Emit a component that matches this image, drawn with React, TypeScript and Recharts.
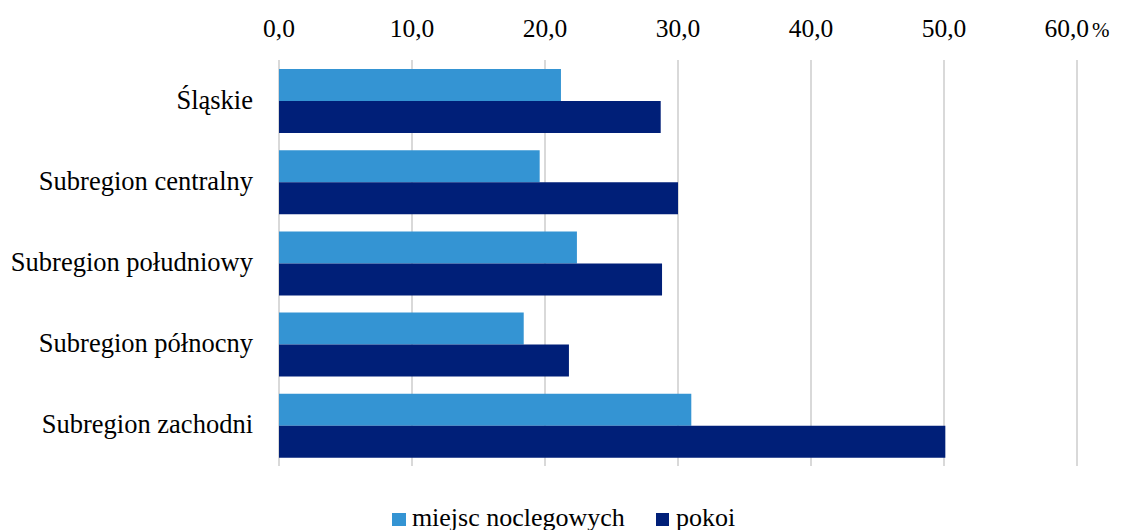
import React from "react";
import {BarChart, Bar, XAxis, YAxis, CartesianGrid, Legend} from "recharts";

const regions = [
    "Śląskie",
    "Subregion centralny",
    "Subregion południowy",
    "Subregion północny",
    "Subregion zachodni",
];
const miejsc = [21.2, 19.6, 22.4, 18.4, 31.0];
const pokoi = [28.7, 30.0, 28.8, 21.8, 50.1];
const ticks = [0, 10, 20, 30, 40, 50, 60];

const data = regions.map((name, i) => ({name, miejsc: miejsc[i], pokoi: pokoi[i]}));

const FONT = "Liberation Serif, Times New Roman, serif";
const LIGHT = "#3494D3";
const DARK = "#001F78";

const TopTick = (props: any) => {
    const {x, payload} = props;
    const label = payload.value.toFixed(1).replace(".", ",");
    return (
        <text x={x} y={37} textAnchor="middle" fontFamily={FONT} fontSize={25.5} fill="#000">
            {label}
            {payload.value === 60 ? <tspan dx={3} fontSize={21}>%</tspan> : null}
        </text>
    );
};

const LeftTick = (props: any) => {
    const {x, y, payload} = props;
    return (
        <text x={x} y={y} dy={8} textAnchor="end" fontFamily={FONT} fontSize={26.5} fill="#000">
            {payload.value}
        </text>
    );
};

const LegendContent = () => (
    <div style={{display: "flex", justifyContent: "center", fontFamily: FONT, fontSize: 26, color: "#000", lineHeight: "29px"}}>
        <span style={{display: "flex", alignItems: "center", marginRight: 31}}>
            <span style={{width: 14, height: 13, background: LIGHT, display: "inline-block", marginRight: 6, marginTop: 3}}/>
            miejsc noclegowych
        </span>
        <span style={{display: "flex", alignItems: "center"}}>
            <span style={{width: 13, height: 13, background: DARK, display: "inline-block", marginRight: 7, marginTop: 3}}/>
            pokoi
        </span>
    </div>
);

const App = () => {
    return (
        <div style={{position: "absolute", left: 0, top: 0, background: "#fff"}}>
            <BarChart
                width={1127}
                height={530}
                data={data}
                layout="vertical"
                barGap={0}
                barSize={32}
                margin={{top: 0, right: 50, bottom: 37, left: 0}}
            >
                <CartesianGrid horizontal={false} stroke="#D9D9D9" strokeWidth={2}/>
                <XAxis
                    type="number"
                    orientation="top"
                    domain={[0, 60]}
                    ticks={ticks}
                    height={60}
                    axisLine={false}
                    tickLine={false}
                    tick={<TopTick/>}
                />
                <YAxis
                    type="category"
                    dataKey="name"
                    width={279}
                    axisLine={false}
                    tickLine={false}
                    tick={<LeftTick/>}
                    tickMargin={20}
                />
                <Legend
                    content={<LegendContent/>}
                    wrapperStyle={{top: 503, left: 0, width: 1127, height: 27}}
                />
                <Bar dataKey="miejsc" name="miejsc noclegowych" fill={LIGHT} isAnimationActive={false}/>
                <Bar dataKey="pokoi" name="pokoi" fill={DARK} isAnimationActive={false}/>
            </BarChart>
        </div>
    );
};

export default App;
